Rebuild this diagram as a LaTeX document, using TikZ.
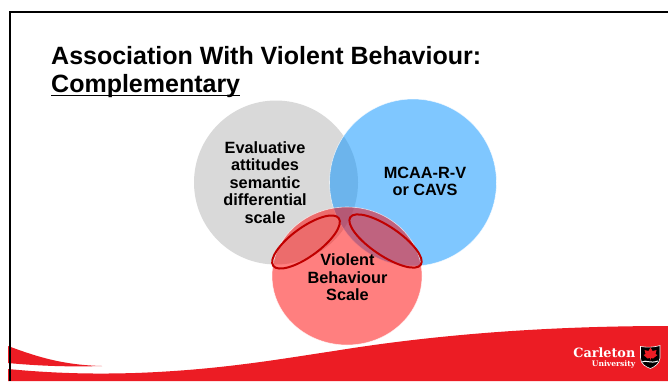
\documentclass[tikz,border=0pt]{standalone}
\usepackage{fontspec}
\setmainfont{Liberation Sans}
\newfontfamily\logofont{DejaVu Serif}
\definecolor{swoosh}{HTML}{EC1C24}
\definecolor{ringred}{HTML}{C00000}
\definecolor{graydisc}{HTML}{D9D9D9}
\definecolor{bluedisc}{RGB}{0,145,255}
\tikzset{
  titletext/.style={inner sep=0pt,anchor=base west,font=\fontsize{25}{28}\selectfont\bfseries},
  disctext/.style={align=center,inner sep=0pt,font=\fontsize{16.3}{17.5}\selectfont\bfseries},
  ring/.style={draw=ringred,line width=2pt},
  logotext/.style={inner sep=0pt,anchor=base east,text=white},
}
\begin{document}
\begin{tikzpicture}[x=1pt,y=-1pt]
\useasboundingbox (0,0) rectangle (668,381);
\fill[white] (0,0) rectangle (668,381);
% discs
\fill[graydisc] (276,182.5) circle (82);
\fill[bluedisc,fill opacity=.5] (413,182.5) circle (83.5);
\draw[white,line width=.6pt,opacity=.7] (413,182.5) circle (83.5);
\fill[red,fill opacity=.5] (347,276) ellipse (75 and 69);
\draw[white,line width=.6pt,opacity=.7] (347,276) ellipse (75 and 69);
% footer
\fill[swoosh] (8,369) .. controls (60,374) and (100,374) .. (135,373)
  .. controls (220,370) and (280,359) .. (334,351)
  .. controls (420,337) and (530,326) .. (668,326)
  -- (668,381) -- (8,381) -- cycle;
\fill[swoosh] (8,346) .. controls (40,358) and (65,365) .. (102,366)
  .. controls (70,367) and (40,366) .. (8,363) -- cycle;
% frame
\draw[black,line width=2pt] (668,12) -- (10,12) -- (10,381);
% rings
\draw[ring] (306,242) [rotate around={36:(306,242)}] ellipse (40.5 and 14.5);
\draw[ring] (385.5,241) [rotate around={-34:(385.5,241)}] ellipse (42.5 and 14.5);
% texts
\node[titletext] (title1) at (51,64.5) {Association With Violent Behaviour:};
\node[titletext] (title2) at (51,92.5) {Complementary};
\draw[black,line width=1.8pt] ([yshift=-3pt]title2.base west) -- ([yshift=-3pt]title2.base east);
\node[disctext] (eval) at (265,182.5) {Evaluative\\attitudes\\semantic\\differential\\scale};
\node[disctext] (mcaa) at (425,181.5) {MCAA-R-V\\or CAVS};
\node[disctext] (viol) at (347.5,277.5) {Violent\\Behaviour\\Scale};
% logo
\node[logotext,font=\logofont\bfseries\fontsize{12.8}{14}\selectfont] (carl) at (635.5,357.5) {Carleton};
\node[logotext,font=\logofont\bfseries\fontsize{7.6}{8}\selectfont] (univ) at (635.5,366) {University};
\path[fill=black,draw=white,line width=.6pt] (640.5,346.5) .. controls (648,347.5) and (653,347.5) .. (660,345.5)
  -- (660,358) .. controls (659.5,364) and (654,367) .. (650.5,368.5)
  .. controls (646,367) and (640.5,364) .. (640.5,358) -- cycle;
\fill[swoosh] (650.5,347.5) -- (652.5,351) -- (656.5,350) -- (655.5,354) -- (657.5,355)
  -- (653,358.5) -- (651,358) -- (650.5,360.5) -- (650,358) -- (647.5,358.5) -- (643.5,355)
  -- (645.5,354) -- (644.5,350) -- (648.5,351) -- cycle;
\draw[white,line width=1pt] (642,362) .. controls (646,359.5) and (650,364) .. (658,361);
\end{tikzpicture}
\end{document}
